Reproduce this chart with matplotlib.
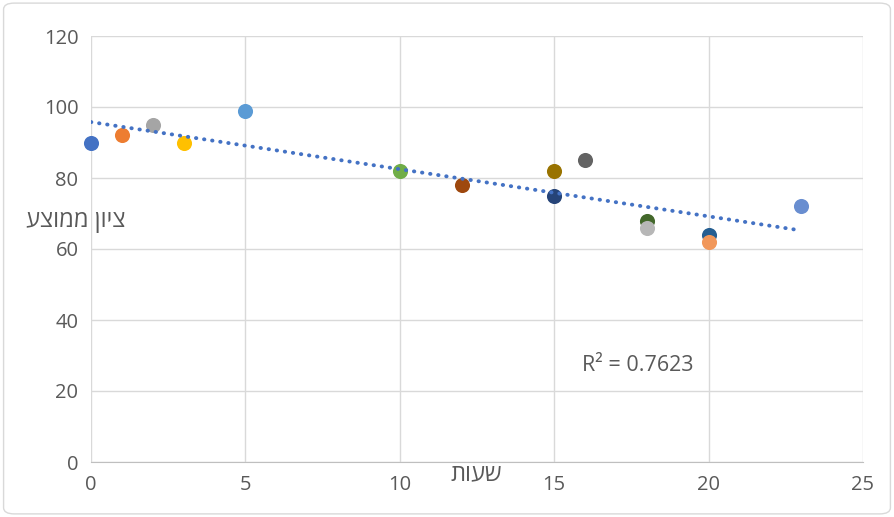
import matplotlib
matplotlib.use("Agg")
import matplotlib.pyplot as plt
import numpy as np
from matplotlib.patches import FancyBboxPatch

# data
hours = [0, 1, 2, 3, 5, 10, 12, 15, 15, 16, 18, 18, 20, 20, 23]
grades = [90, 92, 95, 90, 99, 82, 78, 82, 75, 85, 68, 66, 64, 62, 72]
colors = ['#4472C4', '#ED7D31', '#A5A5A5', '#FFC000', '#5B9BD5', '#70AD47',
          '#9E480E', '#997300', '#264478', '#636363', '#43682B', '#B7B7B7',
          '#255E91', '#F1975A', '#698ED0']
x_title = "שעות"
y_title = "ציון ממוצע"
r2_text = "R² = 0.7623"

plt.rcParams['font.family'] = ['Open Sans', 'DejaVu Sans']

fig = plt.figure(figsize=(8.94, 5.17), dpi=100)
ax = fig.add_axes([91 / 894, 1 - 462 / 517, (863 - 91) / 894, (462 - 36) / 517])

for x, y, c in zip(hours, grades, colors):
    ax.scatter(x, y, s=118, color=c, zorder=3, linewidths=0, clip_on=False)

# linear trendline
k, b = np.polyfit(hours, grades, 1)
tx = np.array([min(hours), max(hours)])
ax.plot(tx, k * tx + b, color='#4472C4', linestyle=(0, (0.1, 2.0)), linewidth=2.8,
        dash_capstyle='round', zorder=4)

ax.text(15.9, 27.3, r2_text, fontsize=15.5, color='#595959', va='center')

ax.set_xlim(0, 25)
ax.set_ylim(0, 120)
ax.set_xticks(range(0, 26, 5))
ax.set_yticks(range(0, 121, 20))
ax.grid(True, color='#D9D9D9', linewidth=1)
ax.set_axisbelow(True)
for s in ['top', 'right', 'left']:
    ax.spines[s].set_visible(False)
ax.spines['bottom'].set_color('#BFBFBF')
ax.tick_params(length=0, labelsize=14.5, labelcolor='#595959', pad=9)

# hebrew titles (reversed for left-to-right drawing)
fig.text(126 / 894, 1 - 221 / 517, y_title[::-1], fontsize=17, color='#595959',
         ha='right', va='center')
fig.text(476 / 894, 1 - 474 / 517, x_title[::-1], fontsize=17, color='#595959',
         ha='center', va='center')

fig.patches.append(FancyBboxPatch((0.004, 0.006), 0.992, 0.988, boxstyle="round,pad=0,rounding_size=0.012",
                                  transform=fig.transFigure, facecolor='none', edgecolor='#D9D9D9',
                                  linewidth=1))

fig.savefig("out.png", dpi=100)
